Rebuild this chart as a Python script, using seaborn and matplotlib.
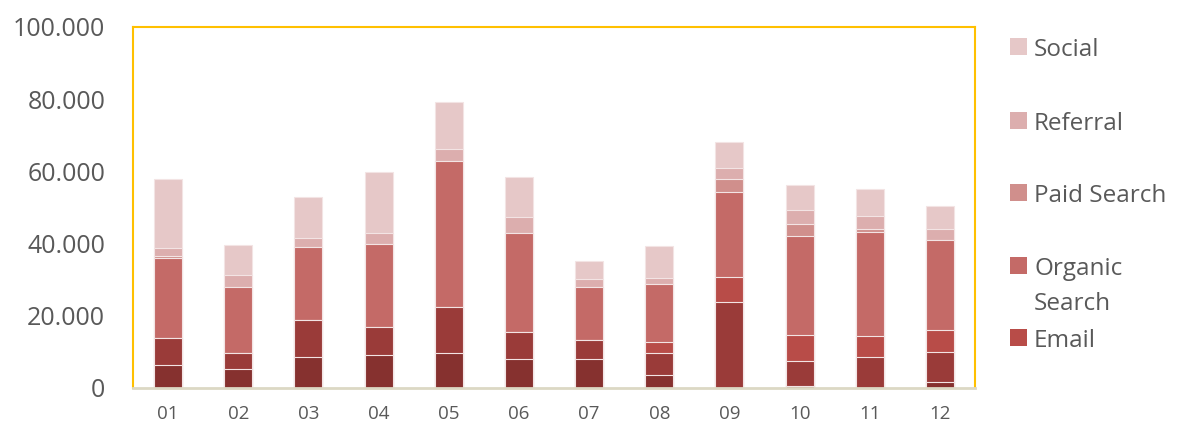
import matplotlib
matplotlib.use("Agg")
import matplotlib.pyplot as plt
from matplotlib.patches import Rectangle
from matplotlib.ticker import FuncFormatter
import numpy as np
import pandas as pd
import seaborn as sns

# months and traffic per channel (values in sessions)
months = ["01", "02", "03", "04", "05", "06", "07", "08", "09", "10", "11", "12"]
other = [6300, 5200, 8500, 9000, 9600, 8000, 8000, 3500, 0, 600, 0, 1600]
direct = [7600, 4400, 10400, 7800, 12700, 7500, 5400, 6300, 23800, 6800, 8500, 8500]
email = [0, 0, 0, 0, 0, 0, 0, 2900, 6900, 7200, 6000, 5900]
organic = [22200, 18300, 20100, 23200, 40700, 27500, 14700, 16100, 23500, 27600, 28600, 24900]
paid = [500, 0, 0, 0, 0, 0, 0, 0, 3700, 3300, 900, 0]
referral = [2300, 3400, 2600, 3000, 3200, 4300, 2200, 1800, 3000, 3700, 3500, 3000]
social = [19000, 8200, 11200, 16900, 13000, 11200, 5000, 8800, 7100, 6900, 7500, 6400]

series = ["Other", "Direct", "Email", "Organic Search", "Paid Search", "Referral", "Social"]
values = [other, direct, email, organic, paid, referral, social]
colors = ["#86312f", "#9a3b39", "#b84c48", "#c46a67", "#d08f8c", "#dcaeae", "#e6c8c8"]

df = pd.DataFrame(dict(zip(series, values)), index=months)
cum = df.cumsum(axis=1)

sns.set_style("white")
plt.rcParams["font.family"] = ["Open Sans", "DejaVu Sans"]

W, H = 1179, 428
fig = plt.figure(figsize=(W / 100, H / 100), dpi=100)
ax = fig.add_axes([0.1128, 0.0935, 0.7142, 0.8435])

# draw cumulative totals from top layer down so lower layers sit on top
for name, col in reversed(list(zip(series, colors))):
    sns.barplot(x=months, y=cum[name].values, color=col, width=0.4,
                edgecolor="#f3e4e4", linewidth=0.8, saturation=1, ax=ax)

ax.set_ylim(0, 100000)
ax.yaxis.set_major_formatter(FuncFormatter(lambda v, p: f"{int(v):,}".replace(",", ".")))
ax.set_yticks(np.arange(0, 100001, 20000))
ax.tick_params(axis="y", labelsize=18, labelcolor="#595959", pad=20, length=0)
ax.tick_params(axis="x", labelsize=13.5, labelcolor="#595959", pad=12, length=0)
ax.set_xlabel("")
ax.set_ylabel("")

for s in ["left", "top", "right"]:
    ax.spines[s].set_color("#ffc000")
    ax.spines[s].set_linewidth(1.5)
ax.spines["bottom"].set_color("#dcd8c4")
ax.spines["bottom"].set_linewidth(2)

# legend drawn by hand: the wrapped "Organic Search" entry sits tight to "Email"
leg_names = ["Social", "Referral", "Paid Search", "Organic\nSearch", "Email"]
leg_colors = ["#e6c8c8", "#dcaeae", "#d08f8c", "#c46a67", "#b84c48"]
leg_y = [47, 121, 193, 266, 338]
for name, col, y in zip(leg_names, leg_colors, leg_y):
    fig.add_artist(Rectangle((1010 / W, 1 - (y + 8) / H), 17 / W, 17 / H,
                             transform=fig.transFigure, facecolor=col, edgecolor="none"))
    for i, line in enumerate(name.split("\n")):
        fig.text(1034 / W, 1 - (y + 9 + 35 * i) / H, line, fontsize=17.5,
                 color="#595959", va="baseline", ha="left")

fig.savefig("out.png", dpi=100)
